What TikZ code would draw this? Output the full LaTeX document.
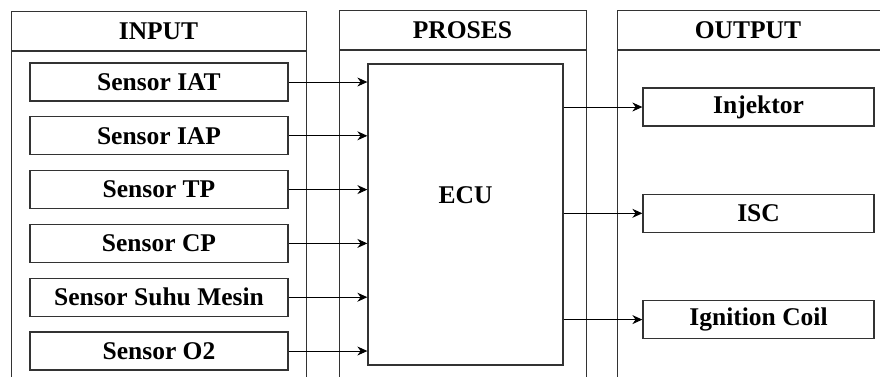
\documentclass[tikz,border=0pt]{standalone}
\usepackage{fontspec}
\setmainfont{Liberation Serif}
\usepackage{tikz}
\usetikzlibrary{positioning,arrows.meta,calc}

\begin{document}
\begin{tikzpicture}[
    x=1pt, y=1pt,
    font=\fontsize{25.5}{30}\selectfont\bfseries,
    node distance=14.5pt,
    colbox/.style={rectangle, draw=black!80, line width=1.3pt, anchor=north west, minimum height=420pt, inner sep=0pt},
    sensorbox/.style={rectangle, draw=black!80, line width=1.3pt, minimum width=258pt, minimum height=38pt, inner sep=0pt},
    outbox/.style={rectangle, draw=black!80, line width=1.3pt, minimum width=231pt, minimum height=38pt, inner sep=0pt},
    procbox/.style={rectangle, draw=black!80, line width=1.3pt, minimum width=195pt, minimum height=301pt, inner sep=0pt},
    arrow/.style={-{Stealth[length=10pt,width=9pt]}, line width=1pt}
]
\useasboundingbox (0,0) rectangle (880,-376);
\clip (0,0) rectangle (880,-376);

% Columns
\node[colbox, minimum width=295pt] (incol) at (11,-11) {};
\node[colbox, minimum width=247pt] (procol) at (339,-10) {};
\node[colbox, minimum width=300pt] (outcol) at (617,-10) {};
\draw[draw=black!80, line width=1.3pt] (incol.west |- 0,-51) -- (incol.east |- 0,-51);
\draw[draw=black!80, line width=1.3pt] (procol.west |- 0,-50) -- (procol.east |- 0,-50);
\draw[draw=black!80, line width=1.3pt] (outcol.west |- 0,-50) -- (outcol.east |- 0,-50);

% Headers
\node (inhead) at (158.5,-31) {INPUT};
\node (prohead) at (462.5,-30) {PROSES};
\node (outhead) at (748,-30) {OUTPUT};

% Input Layer
\node[sensorbox] (iat) at (159,-82) {Sensor IAT};
\node[sensorbox, below=of iat] (iap) {Sensor IAP};
\node[sensorbox, below=of iap] (tp) {Sensor TP};
\node[sensorbox, below=of tp] (cp) {Sensor CP};
\node[sensorbox, below=of cp] (suhu) {Sensor Suhu Mesin};
\node[sensorbox, below=of suhu] (o2) {Sensor O2};

% Process Layer
\node[procbox] (ecu) at (465.5,-214.5) {};
\node (ecutext) at ($(ecu.north)!0.435!(ecu.south)$) {ECU};

% Output Layer
\node[outbox] (inj) at (758.5,-107) {Injektor};
\node[outbox, below=67pt of inj] (isc) {ISC};
\node[outbox, below=67pt of isc] (coil) {Ignition Coil};

% Arrows
\draw[arrow] (iat) -- (iat -| ecu.west);
\draw[arrow] (iap) -- (iap -| ecu.west);
\draw[arrow] (tp) -- (tp -| ecu.west);
\draw[arrow] (cp) -- (cp -| ecu.west);
\draw[arrow] (suhu) -- (suhu -| ecu.west);
\draw[arrow] (o2) -- (o2 -| ecu.west);
\draw[arrow] (inj -| ecu.east) -- (inj);
\draw[arrow] (isc -| ecu.east) -- (isc);
\draw[arrow] (coil -| ecu.east) -- (coil);

\end{tikzpicture}
\end{document}
